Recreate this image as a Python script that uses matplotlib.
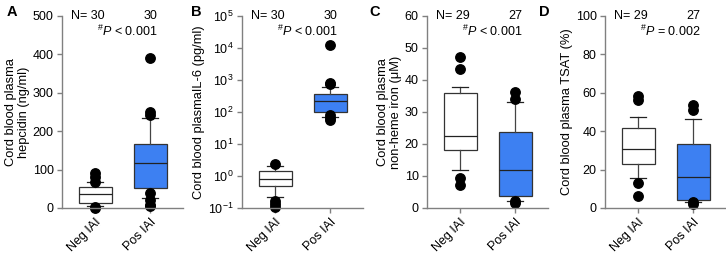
import numpy as np
import matplotlib
matplotlib.use('Agg')
import matplotlib.pyplot as plt
from matplotlib import rcParams

rcParams['font.family'] = 'Liberation Sans'
rcParams['mathtext.fontset'] = 'custom'
rcParams['mathtext.rm'] = 'Liberation Sans'
rcParams['mathtext.it'] = 'Liberation Sans:italic'
rcParams['mathtext.default'] = 'regular'

groups = ['Neg IAI', 'Pos IAI']

# box summaries: [whisker low, q1, median, q3, whisker high]
hepcidin_neg = [6, 13, 37, 54, 69]
hepcidin_pos = [26, 52, 117, 167, 234]
hepcidin_neg_out = [0, 2, 67, 82, 91]
hepcidin_pos_out = [4, 9, 22, 39, 243, 251, 390]

il6_neg = [0.215, 0.47, 0.82, 1.46, 2.0]
il6_pos = [72, 99, 222, 359, 593]
il6_neg_out = [0.11, 0.13, 0.16, 2.4]
il6_pos_out = [56, 65, 81, 750, 794, 12300]

iron_neg = [12.0, 18.1, 22.6, 35.8, 37.7]
iron_pos = [2.3, 3.6, 12.0, 23.7, 33.1]
iron_neg_out = [7.2, 9.4, 43.3, 47.3]
iron_pos_out = [1.6, 2.1, 34.0, 36.4]

tsat_neg = [15.4, 22.7, 30.8, 41.6, 47.3]
tsat_pos = [3.3, 4.0, 16.1, 33.1, 46.4]
tsat_neg_out = [6.1, 13.0, 56.3, 58.1]
tsat_pos_out = [2.3, 2.9, 51.1, 53.7]

n_counts = [(30, 30), (30, 30), (29, 27), (29, 27)]
p_texts = [r'$^{\#}\mathit{P}$ < 0.001', r'$^{\#}\mathit{P}$ < 0.001',
           r'$^{\#}\mathit{P}$ < 0.001', r'$^{\#}\mathit{P}$ = 0.002']
panel_letters = ['A', 'B', 'C', 'D']
ylabels = ['Cord blood plasma\nhepcidin (ng/ml)', 'Cord blood plasmaIL-6 (pg/ml)',
           'Cord blood plasma\nnon-heme iron (\u03bcM)', 'Cord blood plasma TSAT (%)']

panels = [
    (hepcidin_neg, hepcidin_pos, hepcidin_neg_out, hepcidin_pos_out, (0, 500), np.arange(0, 501, 100)),
    (il6_neg, il6_pos, il6_neg_out, il6_pos_out, (0.1, 1e5), None),
    (iron_neg, iron_pos, iron_neg_out, iron_pos_out, (0, 60), np.arange(0, 61, 10)),
    (tsat_neg, tsat_pos, tsat_neg_out, tsat_pos_out, (0, 100), np.arange(0, 101, 20)),
]

fills = ['white', '#3d80f2']
spine_color = '#808080'
fs = 9
fig = plt.figure(figsize=(7.26, 2.56), dpi=100)
lefts = [62, 242, 427, 605]
letter_x = [12, 196, 375, 544]


def make_stats(summary, outliers, label):
    return dict(whislo=summary[0], q1=summary[1], med=summary[2], q3=summary[3],
                whishi=summary[4], fliers=outliers, label=label)


for i, (neg, pos, neg_out, pos_out, ylim, yticks) in enumerate(panels):
    ax = fig.add_axes([lefts[i] / 726, 48 / 256, 121 / 726, 192 / 256])
    stats = [make_stats(neg, neg_out, groups[0]), make_stats(pos, pos_out, groups[1])]
    bp = ax.bxp(stats, positions=[1, 2], widths=0.6, patch_artist=True,
                boxprops=dict(edgecolor='#333333', linewidth=0.9),
                medianprops=dict(color='#222222', linewidth=0.9),
                whiskerprops=dict(color='#444444', linewidth=0.9),
                capprops=dict(color='#222222', linewidth=0.9),
                capwidths=0.3,
                flierprops=dict(marker='o', markerfacecolor='black', markeredgecolor='black',
                                markersize=6.8, linestyle='none'))
    for patch, c in zip(bp['boxes'], fills):
        patch.set_facecolor(c)
    for f in bp['fliers']:
        f.set_clip_on(False)

    if yticks is None:
        ax.set_yscale('log')
        ax.set_ylim(ylim)
        ax.set_yticks([10.0 ** k for k in range(-1, 6)])
        ax.minorticks_off()
    else:
        ax.set_ylim(ylim)
        ax.set_yticks(yticks)
    ax.set_xlim(0.4, 2.6)

    for side in ['top', 'right']:
        ax.spines[side].set_visible(False)
    for side in ['left', 'bottom']:
        ax.spines[side].set_color(spine_color)
        ax.spines[side].set_linewidth(1.0)
    ax.tick_params(axis='both', colors=spine_color, labelcolor='black', labelsize=fs,
                   length=3.5, width=1.0, pad=2.5)
    ax.set_xticks([1, 2])
    ax.set_xticklabels(groups, rotation=45, ha='right', rotation_mode='anchor')
    ax.set_ylabel(ylabels[i], fontsize=9.3, labelpad=2, linespacing=1.05)

    ax.text(0.87, 1.0, 'N= %d' % n_counts[i][0], transform=ax.get_xaxis_transform(),
            ha='center', va='center', fontsize=fs)
    ax.text(2.0, 1.0, '%d' % n_counts[i][1], transform=ax.get_xaxis_transform(),
            ha='center', va='center', fontsize=fs)
    ax.text(1.58, 0.92, p_texts[i], transform=ax.get_xaxis_transform(),
            ha='center', va='center', fontsize=fs)

    fig.text(letter_x[i] / 726, 1 - 12 / 256, panel_letters[i], fontsize=10.5,
             fontweight='bold', ha='center', va='center')

fig.savefig('out.png', dpi=100)
